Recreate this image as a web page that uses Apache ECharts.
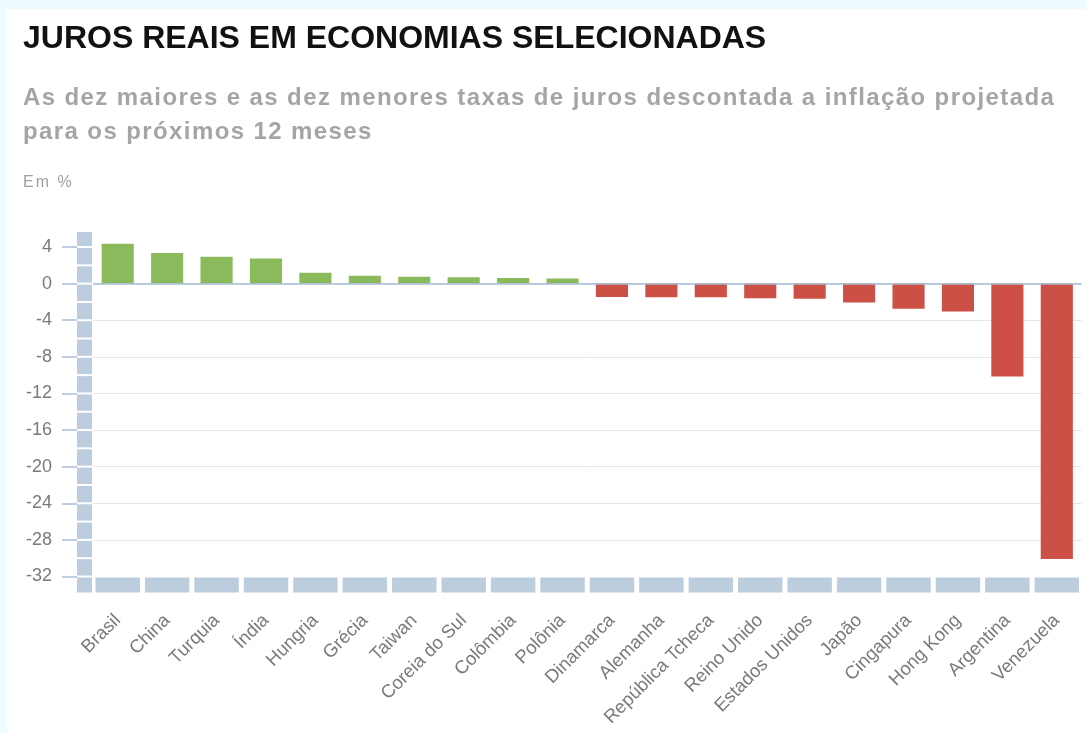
<!DOCTYPE html>
<html lang="pt">
<head>
<meta charset="utf-8">
<title>Juros reais em economias selecionadas</title>
<script src="https://cdn.jsdelivr.net/npm/echarts@6/dist/echarts.min.js"></script>
<style>
  html, body { margin: 0; padding: 0; background: #effcff; width: 1087px; height: 733px; overflow: hidden; }
  #chart { position: absolute; left: 7px; top: 9px; width: 1080px; height: 724px; background: #ffffff; }
  .head { position: absolute; left: 23px; margin: 0; white-space: nowrap; font-family: 'Liberation Sans', Arial, sans-serif; z-index: 2; }
  #titulo { top: 21px; font-size: 32px; line-height: 32px; font-weight: bold; color: #111111; }
  #subtitulo { top: 80px; font-size: 24px; line-height: 33.5px; font-weight: bold; color: #a5a5a5; letter-spacing: 1.4px; }
  #unidade { top: 174px; font-size: 16px; line-height: 16px; font-weight: normal; color: #a0a0a0; letter-spacing: 2px; }
</style>
</head>
<body>
<div id="chart"></div>
<h1 class="head" id="titulo">JUROS REAIS EM ECONOMIAS SELECIONADAS</h1>
<div class="head" id="subtitulo">As dez maiores e as dez menores taxas de juros descontada a inflação projetada<br>para os próximos 12 meses</div>
<div class="head" id="unidade">Em %</div>
<script>
// Países ordenados pela taxa de juros real (em %)
const countries = [
  'Brasil', 'China', 'Turquia', 'Índia', 'Hungria', 'Grécia', 'Taiwan',
  'Coreia do Sul', 'Colômbia', 'Polônia', 'Dinamarca', 'Alemanha',
  'República Tcheca', 'Reino Unido', 'Estados Unidos', 'Japão',
  'Cingapura', 'Hong Kong', 'Argentina', 'Venezuela'
];
const realRates = [
  4.35, 3.35, 2.95, 2.75, 1.2, 0.85, 0.75, 0.7, 0.62, 0.56,
  -1.45, -1.5, -1.5, -1.6, -1.65, -2.05, -2.75, -3.05, -10.15, -30.1
];
const yTicks = [-32, -28, -24, -20, -16, -12, -8, -4, 0, 4];
const yMin = -33.75;
const yMax = 5.75;

const POSITIVE = '#8aba5c';
const NEGATIVE = '#cc5045';
const BAND = '#bccddd';

// Faixa decorativa vertical (blocos de 2 pontos) à esquerda do gráfico
const leftBand = [];
for (let k = yTicks[0]; k < yMax; k += 2) {
  leftBand.push([0, k, Math.min(k + 2, yMax)]);
}
// Faixa decorativa horizontal (um bloco por país) na base do gráfico
const bottomBand = countries.map((c, i) => [i, yMin, yTicks[0]]);

const chart = echarts.init(document.getElementById('chart'), null, { renderer: 'canvas' });

chart.setOption({
  backgroundColor: '#ffffff',
  animation: false,
  textStyle: { fontFamily: 'Liberation Sans, Arial, sans-serif' },
  grid: { left: 86, right: 5.5, top: 222, bottom: 140.5, containLabel: false },
  xAxis: {
    type: 'category',
    data: countries,
    axisLine: { show: false },
    axisTick: { show: false },
    axisLabel: {
      rotate: 45, margin: 25, interval: 0,
      fontSize: 18.5, color: '#7a7a7a', fontFamily: 'Liberation Sans'
    },
    splitLine: { show: false }
  },
  yAxis: {
    type: 'value',
    min: yMin, max: yMax,
    minInterval: 4, maxInterval: 4,
    offset: 16,
    axisLine: { show: false },
    axisTick: {
      show: true, length: 15, customValues: yTicks,
      lineStyle: { color: '#a9bdd5', width: 1.5 }
    },
    axisLabel: {
      customValues: yTicks, margin: 25,
      fontSize: 18, color: '#7a7a7a', fontFamily: 'Liberation Sans'
    },
    splitLine: {
      show: true, showMinLine: false, showMaxLine: false,
      lineStyle: { color: '#e6e6e6', width: 1 }
    }
  },
  series: [
    {
      name: 'Juros reais',
      type: 'bar',
      data: realRates,
      barCategoryGap: '35%',
      itemStyle: {
        color: (p) => (p.value >= 0 ? POSITIVE : NEGATIVE)
      },
      markLine: {
        silent: true,
        symbol: 'none',
        label: { show: false },
        data: [{ yAxis: 0 }],
        lineStyle: { color: '#a7bcd6', width: 1.5, type: 'solid' }
      },
      z: 3
    },
    {
      name: 'faixa-esquerda',
      type: 'custom',
      silent: true,
      clip: false,
      z: 1,
      data: leftBand,
      renderItem: (params, api) => {
        const start = api.coord([0, api.value(1)]);
        const end = api.coord([0, api.value(2)]);
        const catW = api.size([1, 0])[0];
        const gridLeft = start[0] - catW / 2;
        return {
          type: 'rect',
          shape: { x: gridLeft - 16, y: end[1] + 1, width: 15, height: start[1] - end[1] - 2 },
          style: { fill: BAND }
        };
      }
    },
    {
      name: 'faixa-base',
      type: 'custom',
      silent: true,
      clip: false,
      z: 1,
      data: bottomBand,
      renderItem: (params, api) => {
        const idx = api.value(0);
        const bottom = api.coord([idx, api.value(1)]);
        const top = api.coord([idx, api.value(2)]);
        const catW = api.size([1, 0])[0];
        const children = [{
          type: 'rect',
          shape: { x: top[0] - catW / 2 + 2.5, y: top[1] + 1, width: catW - 5, height: bottom[1] - top[1] - 1 },
          style: { fill: BAND }
        }];
        if (idx === 0) {
          const gridLeft = top[0] - catW / 2;
          children.push({
            type: 'rect',
            shape: { x: gridLeft - 16, y: top[1] + 1, width: 15, height: bottom[1] - top[1] - 1 },
            style: { fill: BAND }
          });
        }
        return { type: 'group', children };
      }
    }
  ]
});
</script>
</body>
</html>
